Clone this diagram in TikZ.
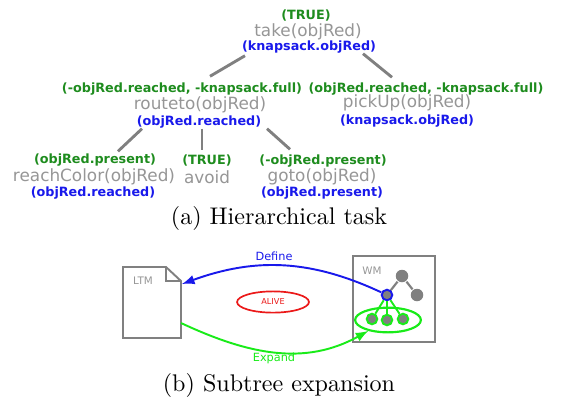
\documentclass[tikz,border=0pt]{standalone}
\usepackage{fontspec}
\newfontfamily\vera{DejaVu Sans}
\usepackage{tikz}
\usetikzlibrary{shapes.geometric}

\definecolor{namegray}{RGB}{150,150,150}
\definecolor{linegray}{RGB}{128,128,128}
\definecolor{pregreen}{RGB}{30,140,30}
\definecolor{postblue}{RGB}{25,25,235}
\definecolor{expgreen}{RGB}{25,235,25}
\definecolor{alivered}{RGB}{235,25,25}

\begin{document}
\begin{tikzpicture}[x=0.0146cm,y=-0.0146cm,
    task/.style={inner sep=0pt,text=namegray,font=\vera\fontsize{7}{8}\selectfont},
    pre/.style={inner sep=0pt,text=pregreen,font=\vera\bfseries\fontsize{5.3}{6}\selectfont},
    post/.style={inner sep=0pt,text=postblue,font=\vera\bfseries\fontsize{5.3}{6}\selectfont},
    branch/.style={draw=linegray,line width=1.2pt},
    subcap/.style={inner sep=0pt,font=\fontsize{10}{12}\selectfont},
    small/.style={inner sep=0pt,font=\vera\fontsize{4.7}{5}\selectfont},
    frame/.style={draw=linegray,line width=0.8pt},
    dot/.style={circle,inner sep=0pt,minimum size=4.4pt,fill=linegray,line width=0.8pt}]
        \useasboundingbox (0,0) rectangle (563,399);
        % (a) hierarchical task
        \begin{scope}
        \clip (0,0) rectangle (542,230);
        \node[pre]  (take-pre)    at (306,15)  {(TRUE)};
        \node[task] (take)        at (308,32)  {take(objRed)};
        \node[post] (take-post)   at (309,47)  {(knapsack.objRed)};
        \node[pre]  (routeto-pre) at (182,89)  {(-objRed.reached, -knapsack.full)};
        \node[task] (routeto)     at (200,105) {routeto(objRed)};
        \node[post] (routeto-post) at (199,122) {(objRed.reached)};
        \node[pre]  (pickup-pre)  at (426,89)  {(objRed.reached, -knapsack.full)};
        \node[task] (pickup)      at (407,103) {pickUp(objRed)};
        \node[post] (pickup-post) at (407,121) {(knapsack.objRed)};
        \node[pre]  (reach-pre)   at (95,160)  {(objRed.present)};
        \node[task] (reach)       at (94,177)  {reachColor(objRed)};
        \node[post] (reach-post)  at (93,193)  {(objRed.reached)};
        \node[pre]  (avoid-pre)   at (207,160) {(TRUE)};
        \node[task] (avoid)       at (207,177) {avoid};
        \node[pre]  (goto-pre)    at (323,161) {(-objRed.present)};
        \node[task] (goto)        at (322,177) {goto(objRed)};
        \node[post] (goto-post)   at (322,193) {(objRed.present)};
        \draw[branch] ([shift={(-64,2)}]take-post.south) -- ([shift={(28,-6)}]routeto-pre.north);
        \draw[branch] ([shift={(54,0)}]take-post.south) -- ([shift={(-34,-5)}]pickup-pre.north);
        \draw[branch] ([shift={(-57,0)}]routeto-post.south) -- ([shift={(23,-2)}]reach-pre.north);
        \draw[branch] ([shift={(3,0)}]routeto-post.south) -- ([shift={(-5,-4)}]avoid-pre.north);
        \draw[branch] ([shift={(68,0)}]routeto-post.south) -- ([shift={(-33,-5)}]goto-pre.north);
        \end{scope}
        \node[subcap] (cap-a) at (279,218) {(a) Hierarchical task};
        % (b) subtree expansion
        \draw[frame] (123,267) -- (166,267) -- (181,281) -- (181,338) -- (123,338) -- cycle;
        \draw[frame] (166,267) -- (166,281) -- (181,281);
        \node[small,text=namegray,font=\vera\fontsize{4.3}{5}\selectfont] (ltm) at (143,281) {LTM};
        \coordinate (ltm-in) at (182,284);
        \coordinate (ltm-out) at (181,323);
        \draw[frame] (353,256) rectangle (435,342);
        \node[small,text=namegray,font=\vera\fontsize{4.3}{5}\selectfont] (wm) at (372,271) {WM};
        \node[ellipse,draw=alivered,line width=0.7pt,inner sep=0pt,minimum width=1.05cm,minimum height=0.31cm,
              text=alivered,font=\vera\fontsize{3.4}{4}\selectfont] (alive) at (273,302) {ALIVE};
        \node[ellipse,draw=expgreen,line width=0.9pt,inner sep=0pt,minimum width=0.96cm,minimum height=0.36cm] (sub) at (388,320) {};
        \node[dot,draw=postblue] (root) at (387,295) {};
        \node[dot,minimum size=5.2pt] (up) at (402,276) {};
        \node[dot,minimum size=5.2pt] (side) at (417,295) {};
        \node[dot,draw=expgreen] (c1) at (372,319) {};
        \node[dot,draw=expgreen] (c2) at (387,320) {};
        \node[dot,draw=expgreen] (c3) at (403,319) {};
        \draw[draw=linegray,line width=0.9pt] (root) -- (up) -- (side);
        \draw[draw=expgreen,line width=0.8pt] (root) -- (c1);
        \draw[draw=expgreen,line width=0.8pt] (root) -- (c2);
        \draw[draw=expgreen,line width=0.8pt] (root) -- (c3);
        \draw[-latex,draw=postblue,line width=0.8pt] (root) to[out=155,in=20] (ltm-in);
        \draw[-latex,draw=expgreen,line width=0.8pt] (ltm-out) to[out=-25,in=209] (sub);
        \node[small,text=postblue] (define) at (274,256) {Define};
        \node[small,text=expgreen] (expand) at (274,358) {Expand};
        \node[subcap] (cap-b) at (279,385) {(b) Subtree expansion};
      \end{tikzpicture}
\end{document}
